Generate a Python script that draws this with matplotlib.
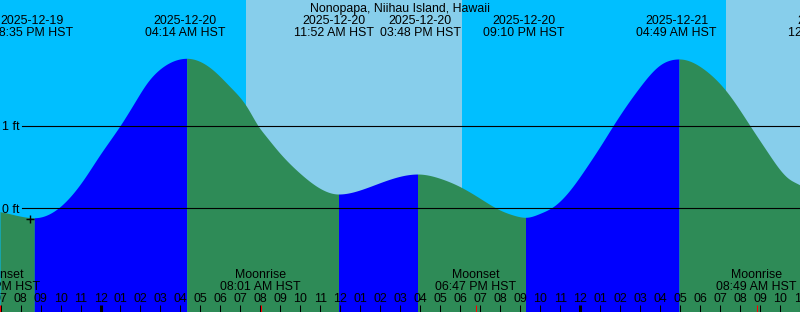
import numpy as np
import matplotlib
matplotlib.use("Agg")
import matplotlib.pyplot as plt
import matplotlib.transforms as mtransforms

# ---------------- data (hours relative to 2025-12-20 00:00 HST, heights in ft) ----------------
title = "Nonopapa, Niihau Island, Hawaii"

tide_hours = [-5.028, -3.312, -2.026, -0.875, -0.025, 0.975, 1.726, 2.311, 3.127, 4.312,
              5.628, 6.478, 7.314, 7.879, 8.229, 8.979, 9.980, 10.980, 11.906, 12.981,
              13.982, 15.858, 16.983, 17.984, 18.984, 19.985, 20.635, 21.261, 21.986, 22.636,
              23.487, 24.322, 25.138, 25.638, 26.323, 26.988, 27.989, 28.939, 30.240, 31.325,
              32.491, 33.407, 34.407, 34.992]
tide_ft = [-0.041, -0.114, 0.020, 0.340, 0.650, 1.000, 1.291, 1.513, 1.714, 1.816,
           1.674, 1.472, 1.230, 1.000, 0.887, 0.666, 0.424, 0.242, 0.173, 0.222,
           0.310, 0.415, 0.363, 0.262, 0.121, -0.021, -0.081, -0.109, -0.061, 0.019,
           0.222, 0.504, 0.806, 1.000, 1.251, 1.472, 1.735, 1.808, 1.674, 1.412,
           1.000, 0.666, 0.363, 0.282]

event_dates = ["2025-12-19", "2025-12-20", "2025-12-20", "2025-12-20", "2025-12-20", "2025-12-21", "2025-12-21"]
event_times = ["08:35 PM", "04:14 AM", "11:52 AM", "03:48 PM", "09:10 PM", "04:49 AM", "12:27 PM"]

moon_names = ["Moonset", "Moonrise", "Moonset", "Moonrise"]
moon_dates = ["2025-12-19", "2025-12-20", "2025-12-20", "2025-12-21"]
moon_times = ["06:58 PM", "08:01 AM", "06:47 PM", "08:49 AM"]

sunrise_hours = [7.279, 31.290]
sunset_hours = [18.084, 42.1]

now_hour, now_ft = -3.527, -0.13
level_lines = [0, 1]
level_labels = ["0 ft", "1 ft"]

# ---------------- layout ----------------
W, H, DPI = 800, 312, 100
PX_PER_H = 19.99
X_MID0 = 100.5          # pixel of midnight 2025-12-20
Y0, PX_PER_FT = 208.3, 82.6

xlo = -X_MID0 / PX_PER_H
xhi = (W - X_MID0) / PX_PER_H
ylo = (Y0 - H) / PX_PER_FT
yhi = Y0 / PX_PER_FT

NIGHT = "#00BFFF"
DAY = "#87CEEB"
RISE = "#0000FF"
FALL = "#2E8B57"
FONT = dict(family=["Liberation Sans", "DejaVu Sans"], size=8.9, color="black")

day_index = {"2025-12-19": -1, "2025-12-20": 0, "2025-12-21": 1}


def to_hours(date, t):
    hh, rest = t.split(":")
    mm, ap = rest.split()
    hh = int(hh) % 12 + (12 if ap == "PM" else 0)
    return day_index[date] * 24 + hh + int(mm) / 60.0


def clamped_spline(x, y, d0, dn, xq):
    """Cubic spline through (x, y) with end slopes d0, dn (for smooth drawing)."""
    x = np.asarray(x, float); y = np.asarray(y, float)
    n = len(x)
    h = np.diff(x); delta = np.diff(y) / h
    d = np.zeros(n); d[0] = d0; d[-1] = dn
    if n > 2:
        m = n - 2
        A = np.zeros((m, m)); b = np.zeros(m)
        for i in range(m):
            k = i + 1
            A[i, i] = 2 * (h[k - 1] + h[k])
            b[i] = 3 * (h[k] * delta[k - 1] + h[k - 1] * delta[k])
            if i > 0:
                A[i, i - 1] = h[k]
            else:
                b[i] -= h[k] * d[0]
            if i < m - 1:
                A[i, i + 1] = h[k - 1]
            else:
                b[i] -= h[k - 1] * d[-1]
        d[1:-1] = np.linalg.solve(A, b)
    idx = np.clip(np.searchsorted(x, xq) - 1, 0, n - 2)
    t = (xq - x[idx]) / h[idx]
    h00 = 2 * t**3 - 3 * t**2 + 1; h10 = t**3 - 2 * t**2 + t
    h01 = -2 * t**3 + 3 * t**2; h11 = t**3 - t**2
    return h00 * y[idx] + h10 * h[idx] * d[idx] + h01 * y[idx + 1] + h11 * h[idx] * d[idx + 1]


fig = plt.figure(figsize=(W / DPI, H / DPI), dpi=DPI)
ax = fig.add_axes([0, 0, 1, 1])
ax.set_xlim(xlo, xhi)
ax.set_ylim(ylo, yhi)
ax.axis("off")

px = mtransforms.Affine2D().scale(1.0 / W, -1.0 / H).translate(0, 1) + ax.transAxes
bx = mtransforms.blended_transform_factory(ax.transData, px)

# sky background
ax.axvspan(xlo, xhi, color=NIGHT, lw=0, zorder=0)
for sr, ss in zip(sunrise_hours, sunset_hours):
    ax.axvspan(sr, ss, color=DAY, lw=0, zorder=0.5)

# tide curve: split at extremes, draw each monotone run
th = np.asarray(tide_hours); ft = np.asarray(tide_ft)
ext_idx = [0]
for k in range(1, len(ft) - 1):
    if (ft[k] - ft[k - 1]) * (ft[k + 1] - ft[k]) < 0:
        ext_idx.append(k)
ext_idx.append(len(ft) - 1)
for a, b in zip(ext_idx[:-1], ext_idx[1:]):
    xs = th[a:b + 1]; ys = ft[a:b + 1]
    d0 = 0.0 if a != 0 else (ys[1] - ys[0]) / (xs[1] - xs[0])
    dn = 0.0 if b != len(ft) - 1 else (ys[-1] - ys[-2]) / (xs[-1] - xs[-2])
    tt = np.linspace(xs[0], xs[-1], 600)
    yy = clamped_spline(xs, ys, d0, dn, tt)
    col = RISE if ys[-1] > ys[0] else FALL
    ax.fill_between(tt, yy, ylo, color=col, lw=0, zorder=1)

# level lines and labels
for lv, lab in zip(level_lines, level_labels):
    ax.axhline(lv, xmin=21.7 / W, xmax=1, color="black", lw=0.8, zorder=3)
    ax.text(2, Y0 - lv * PX_PER_FT + 4.4, lab, transform=px, ha="left", va="baseline", zorder=4, **FONT)

# now marker
ax.plot([now_hour], [now_ft], marker="+", color="black", ms=6, mew=1.0, zorder=4)

# title
ax.text(W / 2, 12, title, transform=px, ha="center", va="baseline", zorder=5, **FONT)

# tide event labels (push apart overlapping labels)
ev_h = [to_hours(d, t) for d, t in zip(event_dates, event_times)]
cx = [X_MID0 + h * PX_PER_H for h in ev_h]
minsep = 86.0
for i in range(len(cx) - 1):
    gap = cx[i + 1] - cx[i]
    if gap < minsep:
        push = (minsep - gap) / 2
        cx[i] -= push; cx[i + 1] += push
for c, d, t in zip(cx, event_dates, event_times):
    ax.text(c, 24, d, transform=px, ha="center", va="baseline", zorder=5, **FONT)
    ax.text(c, 36, t + " HST", transform=px, ha="center", va="baseline", zorder=5, **FONT)

# hour ticks and labels
for hr in range(int(np.floor(xlo)), int(np.ceil(xhi)) + 1):
    hh = hr % 24
    lab = "%02d" % ((hh + 11) % 12 + 1)
    ax.text(hr, 301.7, lab, transform=bx, ha="center", va="baseline", zorder=5, **FONT)
    lw = 2.2 if hh == 0 else 0.75
    ax.plot([hr, hr], [304.5, 312], transform=bx, color="black", lw=lw, zorder=5,
            solid_capstyle="butt")

# moon events
for nm, d, t in zip(moon_names, moon_dates, moon_times):
    h = to_hours(d, t)
    ax.text(h, 278.3, nm, transform=bx, ha="center", va="baseline", zorder=5, **FONT)
    ax.text(h, 290, t + " HST", transform=bx, ha="center", va="baseline", zorder=5, **FONT)
    ax.plot([h, h], [304.5, 312], transform=bx, color="red", lw=0.75, zorder=6,
            solid_capstyle="butt")

fig.savefig("out.png", dpi=DPI)
